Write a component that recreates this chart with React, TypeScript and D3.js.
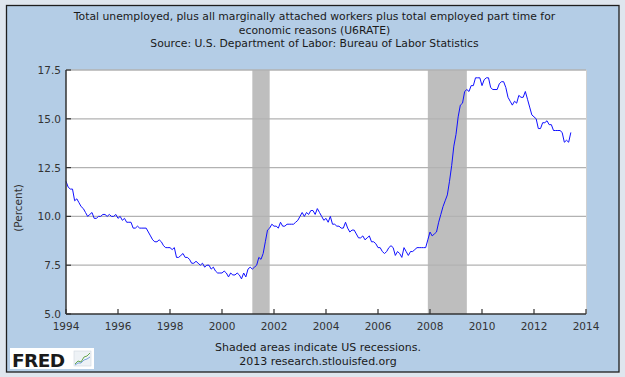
import React from "react";
import * as d3 from "d3";

const startYear = 1994;
const u6Values: number[] = [
  // 1994
  11.8, 11.5, 11.4, 11.4, 10.8, 10.9, 10.7, 10.5, 10.4, 10.2, 10.0, 10.1,
  // 1995
  10.2, 9.9, 9.9, 10.0, 10.0, 10.1, 10.1, 10.0, 10.1, 10.0, 10.0, 10.1,
  // 1996
  9.9, 10.0, 9.8, 9.9, 9.7, 9.7, 9.7, 9.4, 9.4, 9.5, 9.4, 9.4,
  // 1997
  9.4, 9.4, 9.2, 9.0, 8.8, 8.7, 8.7, 8.8, 8.7, 8.5, 8.4, 8.4,
  // 1998
  8.4, 8.3, 8.4, 7.9, 7.9, 8.0, 8.1, 7.9, 7.9, 7.8, 7.6, 7.6,
  // 1999
  7.7, 7.6, 7.5, 7.6, 7.4, 7.5, 7.5, 7.3, 7.4, 7.2, 7.1, 7.1,
  // 2000
  7.1, 7.2, 7.1, 6.9, 7.1, 7.0, 7.0, 7.1, 7.0, 6.8, 7.1, 6.9,
  // 2001
  7.3, 7.4, 7.3, 7.4, 7.5, 7.9, 7.8, 8.1, 8.7, 9.3, 9.4, 9.6,
  // 2002
  9.5, 9.5, 9.4, 9.7, 9.5, 9.5, 9.6, 9.6, 9.6, 9.6, 9.7, 9.8,
  // 2003
  10.0, 10.2, 10.0, 10.2, 10.1, 10.3, 10.3, 10.1, 10.4, 10.2, 10.0, 9.8,
  // 2004
  9.9, 9.7, 10.0, 9.6, 9.6, 9.5, 9.5, 9.4, 9.4, 9.7, 9.4, 9.2,
  // 2005
  9.3, 9.3, 9.1, 8.9, 8.9, 9.0, 8.8, 8.9, 9.0, 8.7, 8.7, 8.6,
  // 2006
  8.4, 8.4, 8.2, 8.1, 8.2, 8.4, 8.5, 8.4, 8.0, 8.2, 8.1, 7.9,
  // 2007
  8.4, 8.2, 8.0, 8.2, 8.2, 8.3, 8.4, 8.4, 8.4, 8.4, 8.4, 8.8,
  // 2008
  9.2, 9.0, 9.1, 9.2, 9.7, 10.1, 10.5, 10.8, 11.1, 11.8, 12.6, 13.6,
  // 2009
  14.2, 15.1, 15.7, 15.8, 16.4, 16.5, 16.4, 16.7, 16.7, 17.1, 17.1, 17.1,
  // 2010
  16.7, 17.0, 17.1, 17.1, 16.6, 16.5, 16.5, 16.5, 16.8, 16.9, 16.9, 16.6,
  // 2011
  16.1, 15.9, 15.7, 15.9, 15.8, 16.2, 16.1, 16.1, 16.4, 16.0, 15.6, 15.2,
  // 2012
  15.1, 15.0, 14.5, 14.5, 14.8, 14.8, 14.9, 14.7, 14.7, 14.4, 14.4, 14.4,
  // 2013
  14.4, 14.3, 13.8, 13.9, 13.8, 14.3,
];

const recessionStarts = [2001 + 2 / 12, 2007 + 11 / 12];
const recessionEnds = [2001 + 10 / 12, 2009 + 5 / 12];

const yTicks = [5.0, 7.5, 10.0, 12.5, 15.0, 17.5];
const xTicks = [1994, 1996, 1998, 2000, 2002, 2004, 2006, 2008, 2010, 2012, 2014];

const titleLines = [
  "Total unemployed, plus all marginally attached workers plus total employed part time for",
  "economic reasons (U6RATE)",
  "Source: U.S. Department of Labor: Bureau of Labor Statistics",
];
const footerLines = ["Shaded areas indicate US recessions.", "2013 research.stlouisfed.org"];
const yAxisLabel = "(Percent)";

const W = 625;
const H = 377;
const plot = { left: 66, right: 586, top: 70, bottom: 314 };
const FONT = "'DejaVu Sans', sans-serif";

export default function App() {
  const x = d3.scaleLinear().domain([1994, 2014]).range([plot.left, plot.right]);
  const y = d3.scaleLinear().domain([5, 17.5]).range([plot.bottom, plot.top]);

  const points = u6Values.map((v, i) => ({ t: startYear + i / 12, v }));
  const line = d3
    .line<{ t: number; v: number }>()
    .x((d) => x(d.t))
    .y((d) => y(d.v));

  return (
    <svg
      width={W}
      height={H}
      style={{ position: "absolute", left: 0, top: 0, display: "block" }}
      fontFamily={FONT}
    >
      <rect x={0} y={0} width={W} height={H} fill="#dfe6ee" />
      <rect x={6.5} y={5.5} width={612.5} height={366.5} fill="#b4cde6" stroke="#1e1e1e" strokeWidth={1.3} />

      {titleLines.map((t, i) => (
        <text key={i} x={314.5} y={20 + i * 13.7} textAnchor="middle" fontSize={10.8} fill="#1a1a1a">
          {t}
        </text>
      ))}

      <rect x={plot.left} y={plot.top} width={plot.right - plot.left} height={plot.bottom - plot.top} fill="#ffffff" />

      {recessionStarts.map((s, i) => (
        <rect
          key={i}
          x={x(s)}
          y={plot.top}
          width={x(recessionEnds[i]) - x(s)}
          height={plot.bottom - plot.top}
          fill="#bebebe"
        />
      ))}

      {yTicks.map((t) => (
        <g key={t}>
          {t > 5 && (
            <line x1={plot.left} x2={plot.right} y1={y(t)} y2={y(t)} stroke="#b2b2b2" strokeWidth={1.3} />
          )}
          <line x1={plot.left} x2={plot.left + 5} y1={y(t)} y2={y(t)} stroke="#333" strokeWidth={1.2} />
          <text x={61} y={y(t) + 4} textAnchor="end" fontSize={10.5} fill="#333">
            {t.toFixed(1)}
          </text>
        </g>
      ))}
      <line x1={plot.right + 0.5} x2={plot.right + 0.5} y1={plot.top} y2={plot.bottom} stroke="#d0d0d0" strokeWidth={1} />

      <path d={line(points) || ""} fill="none" stroke="#1010ff" strokeWidth={1} />

      {xTicks.map((t) => (
        <g key={t}>
          <line x1={x(t)} x2={x(t)} y1={plot.bottom} y2={plot.bottom - 5} stroke="#333" strokeWidth={1.2} />
          <text x={x(t)} y={plot.bottom + 16} textAnchor="middle" fontSize={10.5} fill="#333">
            {t}
          </text>
        </g>
      ))}

      <line x1={plot.left} x2={plot.left} y1={plot.top} y2={plot.bottom} stroke="#333" strokeWidth={1.5} />
      <line x1={plot.left} x2={plot.right} y1={plot.bottom} y2={plot.bottom} stroke="#333" strokeWidth={1.5} />

      <text
        transform={`translate(22, ${(plot.top + plot.bottom) / 2 + 16}) rotate(-90)`}
        textAnchor="middle"
        fontSize={10.5}
        fill="#333"
      >
        {yAxisLabel}
      </text>

      {footerLines.map((t, i) => (
        <text key={i} x={318} y={351 + i * 14} textAnchor="middle" fontSize={11} fill="#1a1a1a">
          {t}
        </text>
      ))}

      <g>
        <rect x={10} y={348} width={84} height={21} fill="#ffffff" />
        <text x={12} y={366.5} fontFamily="'DejaVu Sans', sans-serif" fontWeight="bold" fontSize={18.5} fill="#1a1a1a" letterSpacing={-0.6}>
          FRED
        </text>
        <rect x={74} y={351} width={17} height={15} fill="#eef2f6" stroke="#cfd8e0" strokeWidth={0.6} />
        <polyline points="75,364 78,361 81,362 84,357 87,356 90,353" fill="none" stroke="#6aa84f" strokeWidth={1} />
        <polyline points="75,365 78,363 81,363 84,360 87,359 90,357" fill="none" stroke="#5b8fd6" strokeWidth={0.8} />
      </g>
    </svg>
  );
}
